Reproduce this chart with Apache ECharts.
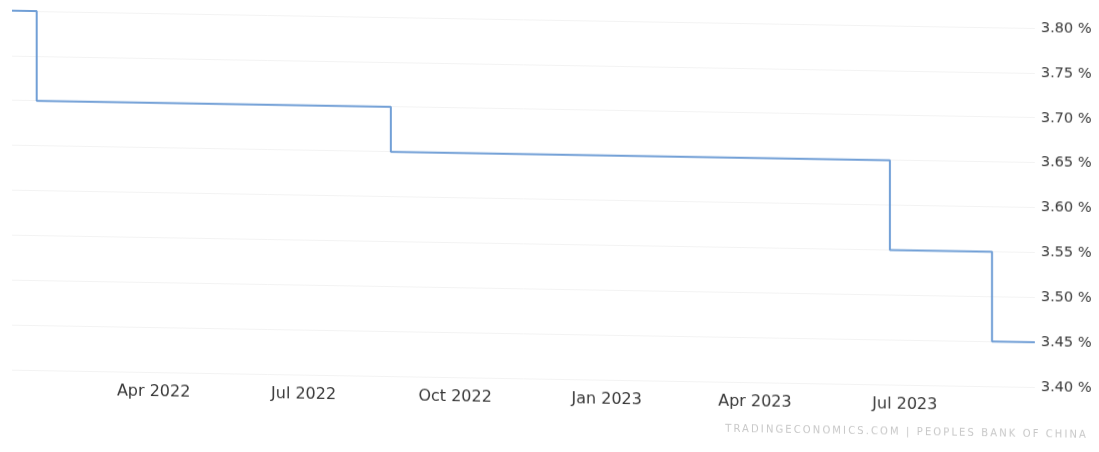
<!DOCTYPE html>
<html>
<head>
<meta charset="utf-8">
<script src="https://cdn.jsdelivr.net/npm/echarts@6/dist/echarts.min.js"></script>
<style>
  html, body { margin: 0; padding: 0; background: #ffffff; }
  #wrap { position: relative; width: 1099px; height: 452px; overflow: hidden; background: #fff; }
  #stage { position: absolute; left: 0; top: 0; width: 1099px; height: 452px;
           transform-origin: 1035px 0; transform: skewY(0.97deg); }
  #chart { position: absolute; left: 0; top: 0; width: 1099px; height: 452px; }
  #source { position: absolute; right: 11px; top: 428px; font-family: "DejaVu Sans", sans-serif;
            font-size: 10px; letter-spacing: 2.1px; color: #c8c8c8; white-space: nowrap; }
</style>
</head>
<body>
<div id="wrap">
  <div id="stage">
    <div id="chart"></div>
    <div id="source">TRADINGECONOMICS.COM | PEOPLES BANK OF CHINA</div>
  </div>
</div>
<script>
// Change dates and the rate that applies from each date
const dates = ['2022-01-05', '2022-01-20', '2022-08-23', '2023-06-22', '2023-08-23', '2023-09-18'];
const rates = [3.80, 3.70, 3.65, 3.55, 3.45, 3.45];

// X-axis tick positions and their labels
const tickDates = ['2022-04-01', '2022-07-01', '2022-10-01', '2023-01-01', '2023-04-01', '2023-07-01'];
const tickLabels = ['Apr 2022', 'Jul 2022', 'Oct 2022', 'Jan 2023', 'Apr 2023', 'Jul 2023'];

// Y-axis range
const yMin = 3.40, yMax = 3.80, yStep = 0.05;

function toTime(s) {
  const p = s.split('-').map(Number);
  return Date.UTC(p[0], p[1] - 1, p[2]);
}

const seriesData = dates.map((d, i) => [toTime(d), rates[i]]);
const tickTimes = tickDates.map(toTime);
function labelFor(v) {
  let best = 0, bd = Infinity;
  tickTimes.forEach((t, i) => { const d = Math.abs(t - v); if (d < bd) { bd = d; best = i; } });
  return bd < 86400000 ? tickLabels[best] : '';
}

const chart = echarts.init(document.getElementById('chart'), null, { renderer: 'canvas' });
chart.setOption({
  backgroundColor: 'transparent',
  animation: false,
  grid: { left: 12, right: 64, top: 28, bottom: 65, containLabel: false },
  xAxis: {
    type: 'value',
    min: toTime(dates[0]),
    max: toTime(dates[dates.length - 1]),
    scale: true,
    axisLine: { show: false },
    axisTick: { show: false },
    splitLine: { show: false },
    axisLabel: {
      customValues: tickTimes,
      formatter: v => labelFor(v),
      color: '#383838',
      fontFamily: 'DejaVu Sans',
      fontSize: 16,
      margin: 12,
      hideOverlap: false
    }
  },
  yAxis: {
    type: 'value',
    position: 'right',
    min: yMin,
    max: yMax,
    interval: yStep,
    axisLine: { show: false },
    axisTick: { show: false },
    splitLine: { show: true, lineStyle: { color: '#f3f3f3', width: 1 } },
    axisLabel: {
      formatter: v => v.toFixed(2) + ' %',
      color: '#383838',
      fontFamily: 'DejaVu Sans',
      fontSize: 14.5,
      margin: 6,
      align: 'left'
    }
  },
  series: [{
    type: 'line',
    step: 'end',
    data: seriesData,
    showSymbol: false,
    lineStyle: { color: '#719fd6', width: 2 }
  }]
});
</script>
</body>
</html>
